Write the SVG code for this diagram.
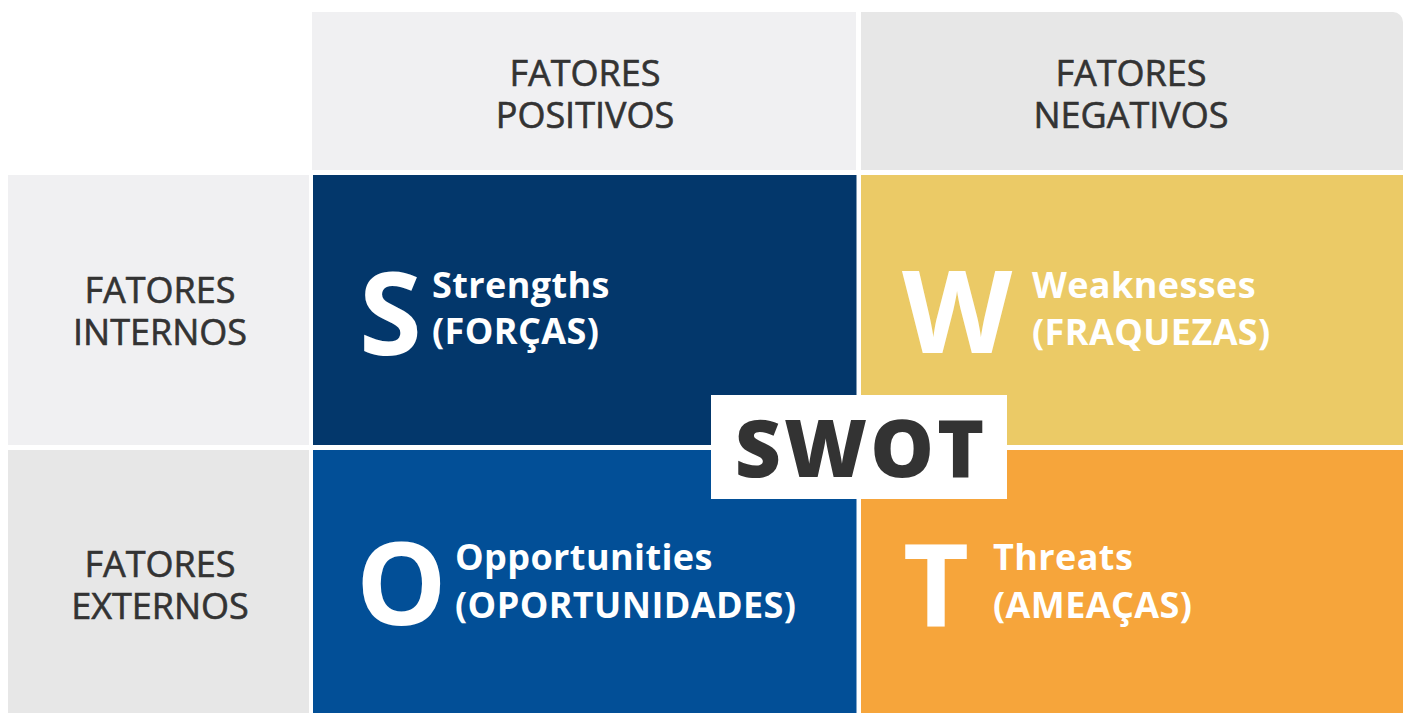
<svg xmlns="http://www.w3.org/2000/svg" width="1406" height="713" viewBox="0 0 1406 713">
  <style>
    .hdr { font-family: "Open Sans", "Noto Sans", sans-serif; font-size: 36px; fill: #333333; stroke: #333333; stroke-width: 0.6px; text-anchor: middle; }
    .big { font-family: "Open Sans", "Noto Sans", sans-serif; font-weight: 700; font-size: 114px; fill: #ffffff; }
    .lbl { font-family: "Open Sans", "Noto Sans", sans-serif; font-weight: 700; font-size: 36px; fill: #ffffff; letter-spacing: 0.4px; }
    .swot { font-family: "Open Sans", "Noto Sans", sans-serif; font-weight: 800; font-size: 80px; fill: #333333; text-anchor: middle; letter-spacing: 3px; }
  </style>
  <rect x="0" y="0" width="1406" height="713" fill="#ffffff"/>

  <!-- column headers -->
  <g id="header-positive">
    <rect x="312" y="12" width="544" height="158" fill="#f0f0f2"/>
    <text class="hdr" x="585" y="86">FATORES</text>
    <text class="hdr" x="585" y="128">POSITIVOS</text>
  </g>
  <g id="header-negative">
    <path d="M861 12 H1393 A10 10 0 0 1 1403 22 V170 H861 Z" fill="#e7e7e7"/>
    <text class="hdr" x="1131" y="86">FATORES</text>
    <text class="hdr" x="1131" y="128">NEGATIVOS</text>
  </g>

  <!-- row headers -->
  <g id="row-internal">
    <rect x="8" y="175" width="301" height="270" fill="#f0f0f2"/>
    <text class="hdr" x="160" y="303">FATORES</text>
    <text class="hdr" x="160" y="345">INTERNOS</text>
  </g>
  <g id="row-external">
    <rect x="8" y="450" width="301" height="263" fill="#e7e7e7"/>
    <text class="hdr" x="160" y="577">FATORES</text>
    <text class="hdr" x="160" y="619">EXTERNOS</text>
  </g>

  <!-- quadrants -->
  <g id="strengths">
    <rect x="313" y="175" width="543.5" height="270" fill="#03376b"/>
    <text class="big" x="359" y="355">S</text>
    <text class="lbl" x="432" y="298">Strengths</text>
    <text class="lbl" x="432" y="344">(FORÇAS)</text>
  </g>
  <g id="weaknesses">
    <rect x="861" y="175" width="542" height="270" fill="#ebca66"/>
    <text class="big" x="902" y="353">W</text>
    <text class="lbl" x="1032" y="298">Weaknesses</text>
    <text class="lbl" x="1032" y="345">(FRAQUEZAS)</text>
  </g>
  <g id="opportunities">
    <rect x="313" y="450" width="543.5" height="263" fill="#024f97"/>
    <text class="big" x="356" y="625">O</text>
    <text class="lbl" x="455" y="570">Opportunities</text>
    <text class="lbl" x="455" y="618">(OPORTUNIDADES)</text>
  </g>
  <g id="threats">
    <rect x="861" y="450" width="542" height="263" fill="#f6a53b"/>
    <text class="big" x="903" y="627">T</text>
    <text class="lbl" x="993" y="570">Threats</text>
    <text class="lbl" x="993" y="618">(AMEAÇAS)</text>
  </g>

  <!-- centre badge -->
  <g id="swot-badge">
    <rect x="711" y="395" width="296" height="104" fill="#ffffff"/>
    <text class="swot" x="861" y="477">SWOT</text>
  </g>

  <g id="connectors"/>
</svg>
